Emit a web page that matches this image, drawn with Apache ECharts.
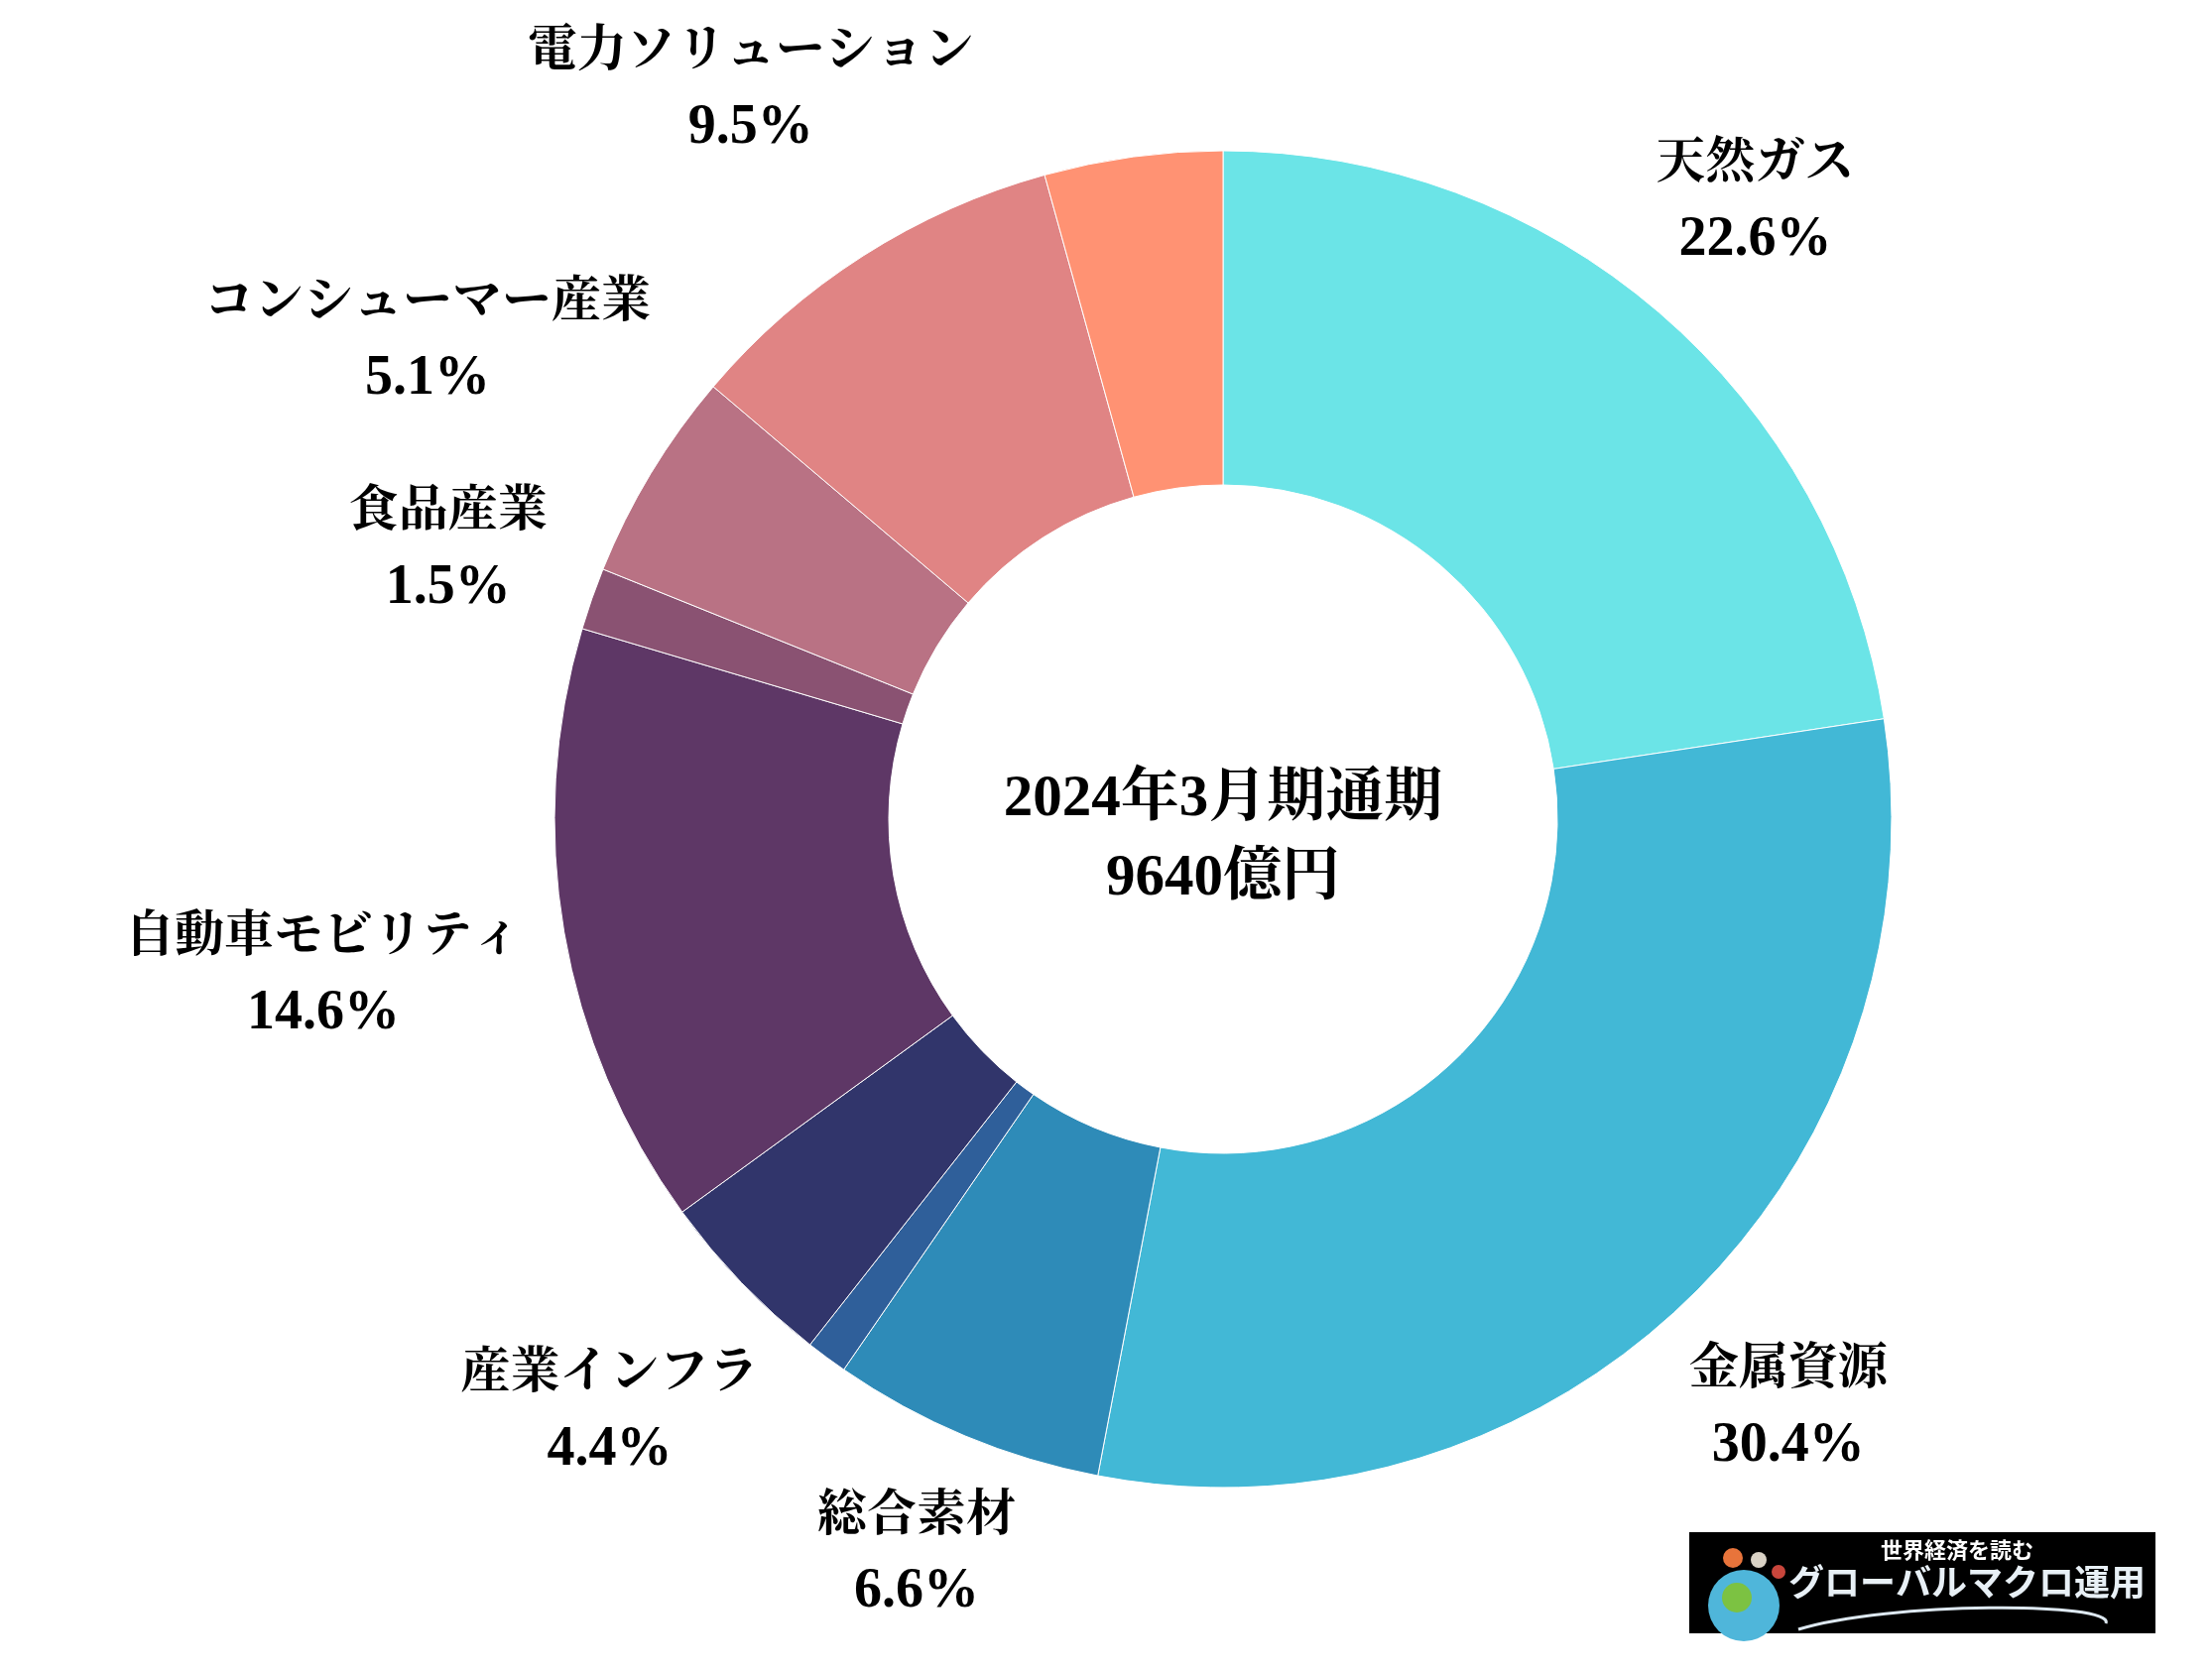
<!DOCTYPE html>
<html>
<head>
<meta charset="utf-8">
<script src="https://cdn.jsdelivr.net/npm/echarts@6/dist/echarts.min.js"></script>
<style>
  html, body { margin: 0; padding: 0; background: #fff; }
  #chart { width: 2230px; height: 1686px; }
</style>
</head>
<body>
<div id="chart"></div>
<script>
// ---- data ----
const segmentNames = ['天然ガス', '金属資源', '総合素材', '調整', '産業インフラ', '自動車モビリティ', '食品産業', 'コンシューマー産業', '電力ソリューション', 'その他'];
const segmentShares = [22.6, 30.4, 6.6, 1.0, 4.4, 14.6, 1.5, 5.1, 9.5, 4.3];
const segmentLabeled = [true, true, true, false, true, true, true, true, true, false];
const segmentColors = ['#6BE4E7', '#42B8D6', '#2E8BB8', '#2F5F9A', '#31356B', '#5E3766', '#8A5272', '#B97284', '#E08484', '#FF9273'];
const centerLines = ['2024年3月期通期', '9640億円'];

// ---- layout ----
const CX = 1233, CY = 826;
const R_OUT = 674, R_IN = 337;
const LABEL_GAP = 40;
const LABEL_TOP_MIN = 36;
const FONT = "'Liberation Serif', 'Noto Serif CJK JP', 'Noto Sans CJK JP', serif";
const NAME_FS = 50, NUM_FS = 56, LABEL_LH = 76;

const chart = echarts.init(document.getElementById('chart'), null, { renderer: 'canvas' });

const data = segmentNames.map((n, i) => ({
  name: n,
  value: segmentShares[i],
  itemStyle: { color: segmentColors[i] },
  label: { show: segmentLabeled[i] }
}));

chart.setOption({
  backgroundColor: '#ffffff',
  animation: false,
  series: [{
    type: 'pie',
    center: [CX, CY],
    radius: [R_IN, R_OUT],
    startAngle: 90,
    clockwise: true,
    avoidLabelOverlap: false,
    itemStyle: { borderColor: '#ffffff', borderWidth: 1 },
    label: {
      position: 'inside',
      formatter: p => '{n|' + p.name + '}\n{v|' + p.value.toFixed(1) + '%}',
      fontFamily: FONT,
      fontWeight: 'bold',
      color: '#000000',
      align: 'center',
      rich: {
        n: { fontFamily: FONT, fontWeight: 'bold', fontSize: NAME_FS, lineHeight: LABEL_LH, color: '#000', align: 'center' },
        v: { fontFamily: FONT, fontWeight: 'bold', fontSize: NUM_FS, lineHeight: LABEL_LH, color: '#000', align: 'center' }
      }
    },
    labelLine: { show: false },
    labelLayout: function (p) {
      const r = p.labelRect;
      const mx = r.x + r.width / 2, my = r.y + r.height / 2;
      let dx = mx - CX, dy = my - CY;
      const len = Math.sqrt(dx * dx + dy * dy) || 1;
      dx /= len; dy /= len;
      const hEff = r.height - 18;
      const d = R_OUT + LABEL_GAP + Math.abs(dx) * r.width / 2 + Math.abs(dy) * hEff / 2;
      let x = CX + dx * d, y = CY + dy * d;
      if (y - hEff / 2 < LABEL_TOP_MIN) y = LABEL_TOP_MIN + hEff / 2;
      return { x: x, y: y, align: 'center', verticalAlign: 'middle' };
    },
    emphasis: { disabled: true },
    data: data
  }],
  graphic: [
    {
      type: 'text',
      x: CX, y: 847,
      style: {
        text: '{a|' + centerLines[0] + '}\n{a|' + centerLines[1] + '}',
        rich: { a: { fontFamily: FONT, fontWeight: 'bold', fontSize: 59, lineHeight: 80, fill: '#000', align: 'center' } },
        fill: '#000',
        align: 'center',
        verticalAlign: 'middle'
      }
    },
    {
      type: 'group',
      x: 1703, y: 1545,
      children: [
        { type: 'rect', shape: { x: 0, y: 0, width: 470, height: 102 }, style: { fill: '#000' } },
        { type: 'circle', shape: { cx: 55, cy: 74, r: 36 }, style: { fill: '#4FB6DA' } },
        { type: 'circle', shape: { cx: 48, cy: 66, r: 15 }, style: { fill: '#7CC242' } },
        { type: 'circle', shape: { cx: 44, cy: 26, r: 10 }, style: { fill: '#E8743B' } },
        { type: 'circle', shape: { cx: 70, cy: 28, r: 8 }, style: { fill: '#D9D2C5' } },
        { type: 'circle', shape: { cx: 90, cy: 40, r: 7 }, style: { fill: '#C8463C' } },
        {
          type: 'text', x: 270, y: 18,
          style: { text: '世界経済を読む', fontFamily: "'Noto Sans CJK JP', sans-serif", fontWeight: 'bold', fontSize: 22, fill: '#fff', align: 'center', verticalAlign: 'middle' }
        },
        {
          type: 'text', x: 280, y: 50,
          style: { text: 'グローバルマクロ運用', fontFamily: "'Noto Sans CJK JP', sans-serif", fontWeight: 'bold', fontSize: 36, fill: '#E8F0F6', align: 'center', verticalAlign: 'middle' }
        },
        {
          type: 'bezierCurve',
          shape: { x1: 110, y1: 98, x2: 420, y2: 92, cpx1: 200, cpy1: 70, cpx2: 430, cpy2: 70 },
          style: { stroke: '#DDE8F0', lineWidth: 3, fill: null }
        }
      ]
    }
  ]
});
</script>
</body>
</html>
